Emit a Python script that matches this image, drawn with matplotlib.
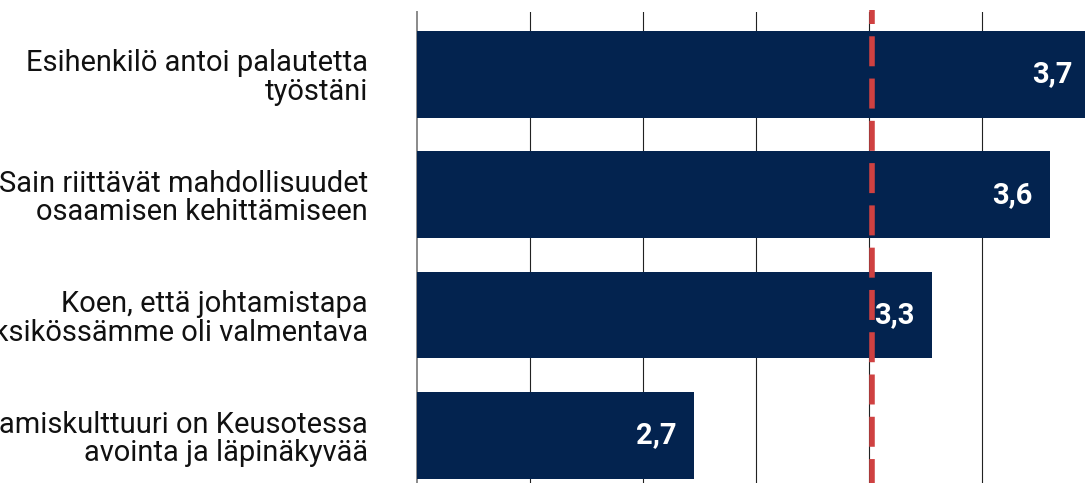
import numpy as np
import matplotlib
matplotlib.use("Agg")
import matplotlib.pyplot as plt
import matplotlib.transforms as mtransforms

# ---- data ----
categories = [
    "Esihenkilö antoi palautetta\ntyöstäni",
    "Sain riittävät mahdollisuudet\nosaamisen kehittämiseen",
    "Koen, että johtamistapa\nyksikössämme oli valmentava",
    "Johtamiskulttuuri on Keusotessa\navointa ja läpinäkyvää",
]
values = [3.7, 3.6, 3.3, 2.7]
value_labels = ["3,7", "3,6", "3,3", "2,7"]
reference_value = 3.15
x_min, x_max = 2.0, 4.0
n_grid_intervals = 7

BAR_COLOR = "#03234F"
REF_COLOR = "#CF4141"

plt.rcParams['font.family'] = ['Roboto', 'DejaVu Sans']

W, H = 1085, 483
fig = plt.figure(figsize=(W / 100, H / 100), dpi=100)

left_px = 416.7
px_per_unit = 396.0
top_px = 12.3
cat_px = 120.4
ylim_pad = 0.515
n = len(categories)
ax_w_px = (x_max - x_min) * px_per_unit
ax_h_px = (n - 1 + 2 * ylim_pad) * cat_px
ax = fig.add_axes([left_px / W, 1 - (top_px + ax_h_px) / H, ax_w_px / W, ax_h_px / H])

y = np.arange(n)
ax.barh(y, values, left=0, height=0.72, color=BAR_COLOR, zorder=2)
ax.set_xlim(x_min, x_max)
ax.set_ylim(n - 1 + ylim_pad, -ylim_pad)

grid = np.linspace(x_min, x_max, n_grid_intervals + 1)
ax.set_xticks(grid[1:])
ax.grid(axis='x', color='#222222', linewidth=0.8, zorder=1)
ax.set_axisbelow(True)
ax.tick_params(axis='x', length=0, labelbottom=False)
ax.set_yticks(y, categories, fontsize=20.9, color='#111111', ha='right')
for t in ax.get_yticklabels():
    t.set_linespacing(1.03)
ax.tick_params(axis='y', length=0, pad=35)
for name, s in ax.spines.items():
    s.set_visible(name == 'left')
ax.spines['left'].set_color('#8a8a8a')
ax.spines['left'].set_linewidth(1.4)
ax.spines['left'].set_zorder(1.5)

for yi, v, lab in zip(y, values, value_labels):
    ax.annotate(lab, xy=(v, yi), xytext=(-12.5, 0), textcoords='offset points',
                ha='right', va='center', color='white', fontsize=21,
                fontweight='bold', zorder=4)

# dashed reference line, drawn from top downward
trans = mtransforms.blended_transform_factory(ax.transData, fig.transFigure)
ax.plot([reference_value, reference_value], [1 - 10 / H, 0], transform=trans,
        color=REF_COLOR, linewidth=4, linestyle=(2.88, (5.4, 2.21)),
        solid_capstyle='butt', dash_capstyle='butt', clip_on=False, zorder=3)

fig.savefig("out.png", dpi=100)
